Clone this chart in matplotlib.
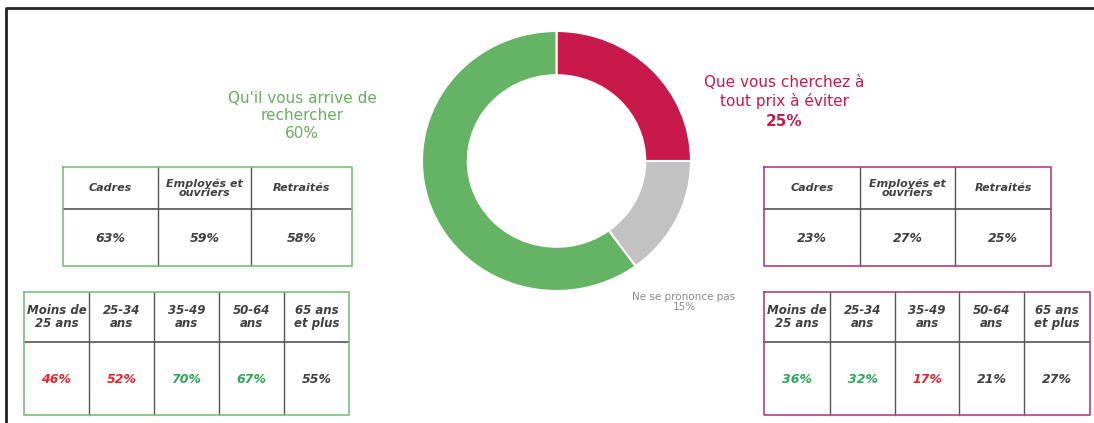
import matplotlib.pyplot as plt

# donut
donut_labels = ['Que vous cherchez à\ntout prix à éviter', 'Ne se prononce pas', "Qu'il vous arrive de\nrechercher"]
donut_values = [25, 15, 60]
donut_colors = ['#c8194a', '#c2c2c2', '#65b365']

# tables
csp_labels = ['Cadres', 'Employés et\nouvriers', 'Retraités']
csp_recherche = [63, 59, 58]
csp_eviter = [23, 27, 25]

age_labels = ['Moins de\n25 ans', '25-34\nans', '35-49\nans', '50-64\nans', '65 ans\net plus']
age_recherche = [46, 52, 70, 67, 55]
age_eviter = [36, 32, 17, 21, 27]
# significance vs. total: -1 lower, +1 higher, 0 none
age_recherche_sig = [-1, -1, 1, 1, 0]
age_eviter_sig = [1, 1, -1, 0, 0]

W, H = 1094, 423
fig = plt.figure(figsize=(W / 100, H / 100), dpi=100)
ax = fig.add_axes([0, 0, 1, 1])
ax.set_xlim(0, W)
ax.set_ylim(H, 0)
ax.axis('off')

# frame
ax.plot([5.5, 5.5, W], [H, 8.5, 8.5], color='#222222', lw=2, solid_capstyle='butt')

GREEN_LINE = '#7dbf7d'
PINK_LINE = '#b8407a'
GRID = '#555555'
TXT = '#404040'
sig_col = {-1: '#e8242f', 1: '#2fa65a', 0: TXT}


def draw_table(xs, ys, headers, values, border, sig=None, hsize=8.5, lsp=1.05):
    # inner lines
    for x in xs[1:-1]:
        ax.plot([x, x], [ys[0], ys[-1]], color=GRID, lw=1)
    ax.plot([xs[0], xs[-1]], [ys[1], ys[1]], color=GRID, lw=1.2)
    # outer border
    ax.plot([xs[0], xs[-1], xs[-1], xs[0], xs[0]],
            [ys[0], ys[0], ys[-1], ys[-1], ys[0]], color=border, lw=1.2)
    for i, (h, v) in enumerate(zip(headers, values)):
        cx = (xs[i] + xs[i + 1]) / 2
        ax.text(cx, (ys[0] + ys[1]) / 2, h, ha='center', va='center', fontsize=hsize,
                fontweight='bold', fontstyle='italic', color=TXT, linespacing=lsp)
        c = TXT if sig is None else sig_col[sig[i]]
        ax.text(cx, (ys[1] + ys[2]) / 2 + 1, f'{v}%', ha='center', va='center', fontsize=9,
                fontweight='bold', fontstyle='italic', color=c)


draw_table([63, 158, 251, 352], [167, 209, 266], csp_labels, csp_recherche, GREEN_LINE,
           hsize=8, lsp=0.9)
draw_table([764, 860, 955, 1051], [167, 209, 266], csp_labels, csp_eviter, PINK_LINE,
           hsize=8, lsp=0.9)
draw_table([24, 89, 154, 219, 284, 349], [292, 342, 415], age_labels, age_recherche,
           GREEN_LINE, age_recherche_sig)
draw_table([764, 830, 895, 959, 1024, 1090], [292, 342, 415], age_labels, age_eviter,
           PINK_LINE, age_eviter_sig)

# donut labels
ax.text(302, 116, f"{donut_labels[2]}\n{donut_values[2]}%", ha='center', va='center',
        fontsize=11, color='#6aae5e', linespacing=1.2)
ax.text(784, 92, donut_labels[0], ha='center', va='center', fontsize=11,
        color='#c8194a', linespacing=1.2)
ax.text(784, 122, f'{donut_values[0]}%', ha='center', va='center', fontsize=11,
        color='#c8194a', fontweight='bold')
ax.text(684, 302, f'{donut_labels[1]}\n{donut_values[1]}%', ha='center', va='center',
        fontsize=7.5, color='#8a8a8a', linespacing=1.1)

# donut
cx, cy, rx, ry = 556.5, 161, 134.5, 130
pax = fig.add_axes([(cx - rx) / W, (H - cy - ry) / H, 2 * rx / W, 2 * ry / H])
pax.pie(donut_values, colors=donut_colors, startangle=90, counterclock=False,
        radius=1, wedgeprops=dict(width=0.34, edgecolor='white', linewidth=1.5))
pax.set_aspect('auto')
pax.set_xlim(-1, 1)
pax.set_ylim(-1, 1)
pax.axis('off')

fig.savefig('out.png', dpi=100)
